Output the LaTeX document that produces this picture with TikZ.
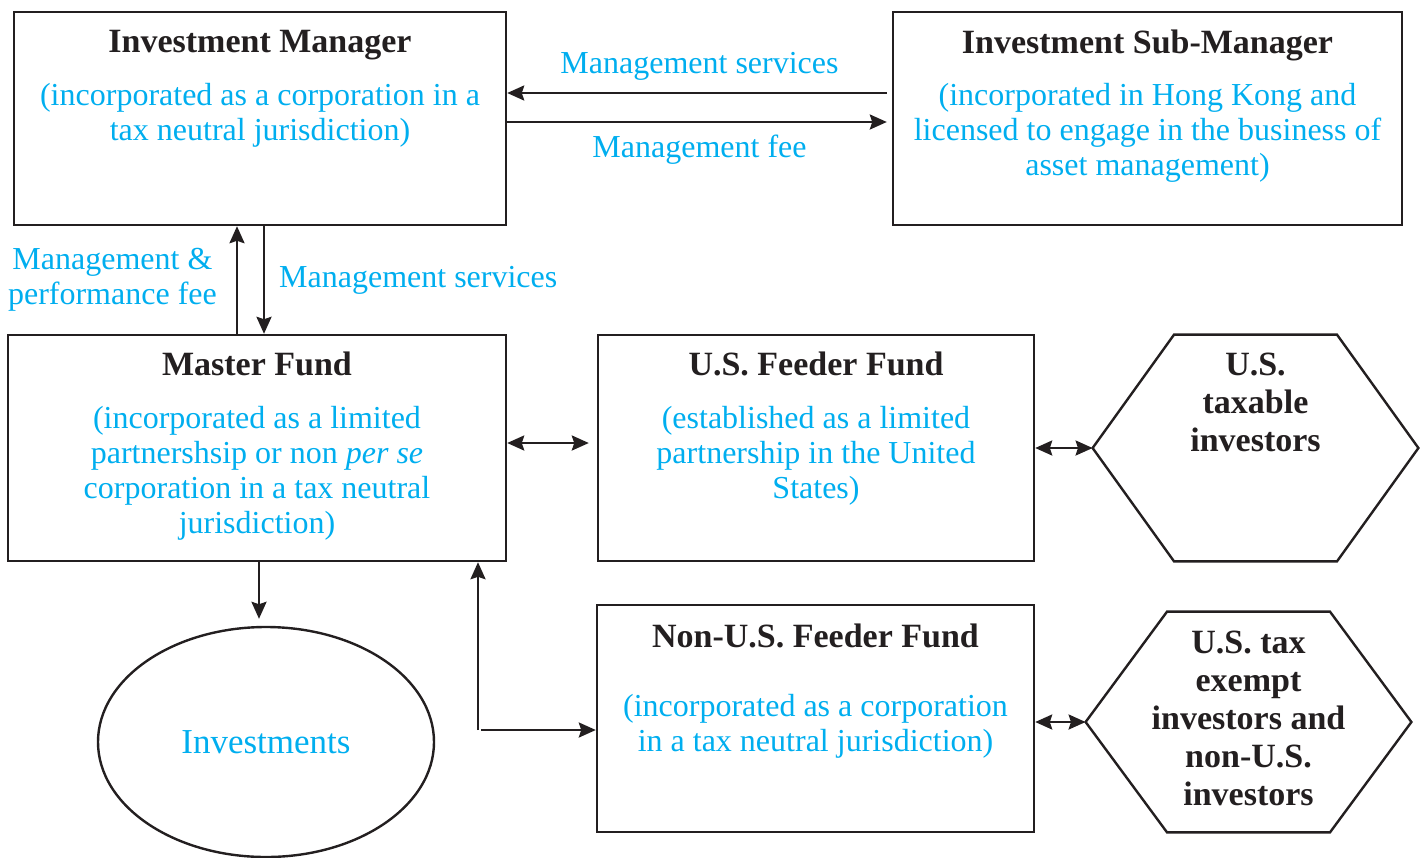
\documentclass[tikz,border=0pt]{standalone}
\usepackage{fontspec}
\setmainfont{Liberation Serif}
\usetikzlibrary{positioning,arrows.meta,calc,shapes.geometric}
\definecolor{noteBlue}{HTML}{00AEEF}
\definecolor{inkBlack}{HTML}{231F20}
\newcommand{\boxtitle}[1]{{\fontsize{17}{17.5}\selectfont\bfseries #1}}

\begin{document}
\begin{tikzpicture}[x=0.5pt, y=-0.5pt, >={Stealth[length=8.5pt, width=7.5pt, inset=1.2pt]},
    entity/.style={draw=inkBlack, line width=1.2pt, inner sep=0pt},
    hexbox/.style={inner sep=0pt},
    txt/.style={font=\fontsize{16}{17.5}\selectfont, align=center, inner sep=0pt},
    note/.style={txt, text=noteBlue},
    boxtext/.style={txt, text=inkBlack},
    head/.style={txt, text=inkBlack, font=\fontsize{17}{19}\selectfont\bfseries},
    flow/.style={->, draw=inkBlack, line width=1.2pt},
    swap/.style={<->, draw=inkBlack, line width=1.2pt}]
  \useasboundingbox (0,0) rectangle (1423,857);

  % entities
  \node[entity, minimum width=246pt, minimum height=106.5pt] (im) at (260,118.5) {};
  \node[entity, minimum width=254.5pt, minimum height=106.5pt] (ism) at (1147.5,118.5) {};
  \node[entity, minimum width=249pt, minimum height=113pt] (master) at (257,448) {};
  \node[entity, minimum width=218pt, minimum height=113pt] (usf) at (816,448) {};
  \node[entity, minimum width=218.5pt, minimum height=113.5pt] (nusf) at (815.5,718.5) {};
  \node[entity, ellipse, minimum width=168pt, minimum height=115pt] (inv) at (266,742) {};
  \node[hexbox, minimum width=162.5pt, minimum height=113pt] (us) at (1255.5,448) {};
  \node[hexbox, minimum width=162.5pt, minimum height=110pt] (exempt) at (1248.5,722) {};
  \foreach \h in {us,exempt} {
    \draw[entity] ($(\h.north west)!.25!(\h.north east)$) -- ($(\h.north west)!.75!(\h.north east)$)
      -- (\h.east) -- ($(\h.south west)!.75!(\h.south east)$)
      -- ($(\h.south west)!.25!(\h.south east)$) -- (\h.west) -- cycle;
  }

  % texts
  \node[boxtext, below=9.5pt of im.north] (imT) {\boxtitle{Investment Manager}\\[9pt]
    \color{noteBlue}(incorporated as a corporation in a\\ \color{noteBlue}tax neutral jurisdiction)};
  \node[boxtext, below=9.5pt of ism.north] (ismT) {\boxtitle{Investment Sub-Manager}\\[8.5pt]
    \color{noteBlue}(incorporated in Hong Kong and\\ \color{noteBlue}licensed to engage in the business of\\ \color{noteBlue}asset management)};
  \node[boxtext, below=9pt of master.north] (masterT) {\boxtitle{Master Fund}\\[9pt]
    \color{noteBlue}(incorporated as a limited\\ \color{noteBlue}partnershsip or non \textit{per se}\\ \color{noteBlue}corporation in a tax neutral\\ \color{noteBlue}jurisdiction)};
  \node[boxtext, below=9pt of usf.north] (usfT) {\boxtitle{U.S. Feeder Fund}\\[9pt]
    \color{noteBlue}(established as a limited\\ \color{noteBlue}partnership in the United\\ \color{noteBlue}States)};
  \node[boxtext, below=10pt of nusf.north] (nusfT) {\boxtitle{Non-U.S. Feeder Fund}\\[17pt]
    \color{noteBlue}(incorporated as a corporation\\ \color{noteBlue}in a tax neutral jurisdiction)};
  \node[note, font=\fontsize{17.5}{18}\selectfont] at (inv.center) {Investments};
  \node[head, below=9pt of us.north] (usT) {U.S.\\taxable\\investors};
  \node[head, below=9.5pt of exempt.north] (exemptT) {U.S. tax\\exempt\\investors and\\non-U.S.\\investors};

  % flows between the managers
  \draw[flow, shorten <=2.5pt] ([yshift=12.75pt]ism.west) -- ([yshift=12.75pt]im.east)
    node[note, midway, above=5.5pt] {Management services};
  \draw[flow, shorten >=2.5pt] ([yshift=-1.75pt]im.east) -- ([yshift=-1.75pt]ism.west)
    node[note, midway, below=6pt] {Management fee};

  % flows between manager and master fund
  \coordinate (feeX) at (237,0);
  \coordinate (svcX) at (264,0);
  \draw[flow] (feeX |- master.north) -- (feeX |- im.south)
    node[note, midway, left=9.5pt] {Management \&\\performance fee};
  \draw[flow] (svcX |- im.south) -- (svcX |- master.north)
    node[note, midway, right=7pt] {Management services};

  % feeders and investors
  \draw[swap, shorten >=4pt] ([yshift=2.5pt]master.east) -- ([yshift=2.5pt]master.east -| usf.west);
  \draw[swap] (usf.east |- us.west) -- (us.west);
  \draw[swap] (nusf.east |- exempt.west) -- (exempt.west);
  \draw[flow, shorten >=3.5pt] ([xshift=1pt]master.south) -- ([xshift=1pt]master.south |- inv.north);
  \coordinate (fork) at (478,730);
  \draw[flow] (fork) -- (fork |- master.south);
  \draw[flow] ([xshift=1.5pt]fork) -- (fork -| nusf.west);
\end{tikzpicture}
\end{document}
